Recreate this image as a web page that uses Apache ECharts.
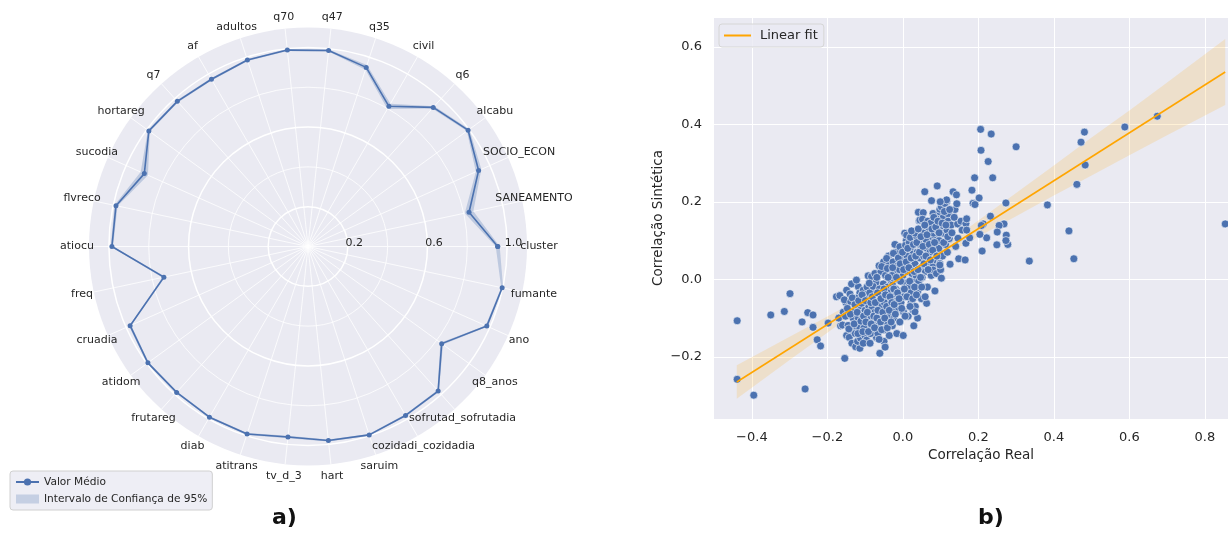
<!DOCTYPE html>
<html><head><meta charset="utf-8">
<script src="https://cdn.jsdelivr.net/npm/echarts@6/dist/echarts.min.js"></script>
<style>html,body{margin:0;padding:0;background:#fff}#c{width:1228px;height:533px}</style>
</head><body><div id="c"></div>
<script>
// ---------- Radar (a) data ----------
const radarCategories = ['cluster','SANEAMENTO','SOCIO_ECON','alcabu','q6','civil','q35','q47','q70','adultos','af','q7','hortareg','sucodia','flvreco','atiocu','freq','cruadia','atidom','frutareg','diab','atitrans','tv_d_3','hart','saruim','cozidadi_cozidadia','sofrutad_sofrutadia','q8_anos','ano','fumante'];
const radarMean = [0.953,0.827,0.938,0.994,0.940,0.813,0.946,0.990,0.992,0.985,0.970,0.981,0.988,0.900,0.986,0.985,0.740,0.978,0.994,0.986,0.990,0.990,0.962,0.980,0.995,0.980,0.977,0.830,0.983,0.997];
const radarLow  = [0.943,0.805,0.923,0.986,0.932,0.798,0.934,0.985,0.987,0.980,0.964,0.975,0.982,0.880,0.978,0.979,0.732,0.972,0.989,0.981,0.985,0.985,0.956,0.975,0.990,0.975,0.971,0.822,0.977,0.992];
const radarHigh = [0.963,0.849,0.953,1.002,0.948,0.828,0.958,0.995,0.997,0.990,0.976,0.987,0.994,0.920,0.994,0.991,0.748,0.984,0.999,0.991,0.995,0.995,0.968,0.985,1.000,0.985,0.983,0.838,0.989,1.002];
const radarRings = [0.2,0.4,0.6,0.8,1.0];
const radarMajorRings = [0.2,0.6,1.0];
const radarTickLabels = ['0.2','0.6','1.0'];
const radarMax = 1.1;

// ---------- Scatter (b) data ----------
const scatterPoints = [
[-0.439,-0.107],[-0.439,-0.258],[-0.395,-0.299],[-0.259,-0.283],[-0.299,-0.037],[-0.350,-0.092],[-0.314,-0.083],[-0.267,-0.110],[-0.252,-0.086],[-0.238,-0.092],[-0.238,-0.124],[-0.198,-0.113],[-0.227,-0.156],[-0.218,-0.172],[-0.154,-0.204],[-0.176,-0.045],
[-0.167,-0.042],[-0.158,-0.085],[-0.165,-0.120],[-0.149,-0.145],[-0.149,-0.028],[-0.151,-0.060],[-0.160,-0.118],[-0.155,-0.053],[-0.145,-0.119],[-0.170,-0.100],
[-0.140,-0.038],[-0.131,-0.135],[-0.138,-0.058],[-0.132,-0.100],[-0.142,-0.150],[-0.135,-0.165],[-0.128,-0.082],[-0.136,-0.012],
[-0.118,-0.019],[-0.114,-0.035],[-0.123,-0.049],[-0.123,-0.122],[-0.114,-0.126],[-0.118,-0.101],[-0.125,-0.174],[-0.114,-0.178],[-0.120,-0.160],[-0.112,-0.152],[-0.123,-0.002],[-0.116,-0.070],[-0.126,-0.140],
[-0.105,-0.028],[-0.109,-0.062],[-0.101,-0.144],[-0.096,-0.157],[-0.092,-0.118],[-0.096,-0.101],[-0.110,-0.088],[-0.092,-0.045],[-0.092,0.009],[-0.105,-0.165],[-0.100,-0.080],[-0.095,-0.020],[-0.103,-0.125],[-0.090,-0.070],
[-0.087,-0.165],[-0.083,0.007],[-0.074,0.015],[-0.085,-0.095],[-0.080,-0.130],[-0.078,-0.055],[-0.072,-0.030],[-0.088,-0.035],[-0.076,-0.110],[-0.082,-0.075],[-0.070,-0.150],[-0.074,-0.085],[-0.086,-0.140],[-0.071,-0.008],[-0.079,-0.018],
[-0.061,-0.191],[-0.065,-0.120],[-0.060,-0.090],[-0.068,-0.060],[-0.055,-0.040],[-0.058,0.020],[-0.063,0.035],[-0.052,-0.012],[-0.066,-0.140],[-0.054,-0.105],[-0.057,-0.070],[-0.050,-0.160],[-0.062,-0.025],[-0.069,0.005],[-0.051,0.045],[-0.056,0.033],[-0.064,-0.100],
[-0.048,-0.130],[-0.045,-0.085],[-0.042,-0.050],[-0.040,-0.020],[-0.046,0.010],[-0.035,0.040],[-0.038,0.060],[-0.044,-0.110],[-0.032,-0.065],[-0.036,-0.145],[-0.041,0.028],[-0.030,-0.005],[-0.047,-0.175],[-0.033,-0.095],[-0.043,0.054],[-0.049,-0.060],[-0.037,-0.035],
[-0.028,-0.120],[-0.025,-0.080],[-0.022,-0.040],[-0.027,-0.015],[-0.020,0.020],[-0.026,0.045],[-0.018,0.070],[-0.024,-0.100],[-0.015,-0.055],[-0.012,0.000],[-0.025,0.067],[-0.016,-0.140],[-0.021,0.090],[-0.013,0.035],[-0.019,-0.025],[-0.011,-0.075],[-0.029,0.010],
[-0.008,-0.110],[-0.005,-0.060],[-0.002,-0.030],[0.000,0.010],[0.004,0.040],[0.008,0.065],[-0.008,0.084],[0.002,-0.085],[0.006,-0.010],[-0.009,0.025],[0.009,0.100],[0.005,0.119],[0.001,-0.145],[0.007,0.088],[-0.004,0.055],[0.003,-0.045],[-0.006,-0.005],
[0.010,0.114],[0.012,0.020],[0.015,-0.020],[0.018,0.050],[0.020,0.080],[0.022,-0.060],[0.025,0.000],[0.028,0.035],[0.014,-0.095],[0.017,0.095],[0.026,0.065],[0.021,-0.035],[0.029,-0.120],[0.020,0.108],[0.024,0.015],[0.011,0.060],[0.027,-0.080],
[0.032,0.040],[0.035,0.010],[0.038,0.070],[0.040,-0.030],[0.043,0.151],[0.045,0.090],[0.048,0.030],[0.033,-0.070],[0.036,0.112],[0.042,-0.005],[0.046,0.055],[0.049,-0.050],[0.033,0.119],[0.039,-0.100],[0.032,-0.084],[0.041,0.173],[0.045,0.153],
[0.054,0.172],[0.052,0.155],[0.058,0.226],[0.055,0.060],[0.060,0.020],[0.062,0.100],[0.065,-0.020],[0.068,0.045],[0.057,0.130],[0.063,0.080],[0.063,-0.062],[0.051,0.005],[0.069,0.127],[0.059,-0.045],[0.055,0.119],[0.066,0.150],
[0.076,0.203],[0.080,0.170],[0.089,0.157],[0.080,0.037],[0.072,0.070],[0.075,0.010],[0.078,0.110],[0.083,0.131],[0.085,-0.030],[0.088,0.090],[0.083,0.114],[0.074,0.145],[0.086,0.050],[0.080,0.024],[0.081,0.119],[0.089,0.015],
[0.091,0.241],[0.098,0.174],[0.098,0.181],[0.098,0.041],[0.102,0.187],[0.102,0.131],[0.107,0.160],[0.107,0.119],[0.095,0.080],[0.100,0.025],[0.105,0.060],[0.092,0.125],[0.102,0.003],[0.096,0.100],[0.098,0.037],
[0.111,0.201],[0.116,0.200],[0.111,0.196],[0.116,0.205],[0.117,0.127],[0.120,0.169],[0.120,0.150],[0.125,0.039],[0.113,0.090],[0.118,0.070],[0.123,0.105],[0.128,0.140],
[0.133,0.226],[0.142,0.218],[0.145,0.143],[0.146,0.106],[0.148,0.053],[0.154,0.150],[0.138,0.180],[0.140,0.085],
[0.157,0.127],[0.165,0.050],[0.167,0.093],[0.167,0.144],[0.169,0.156],[0.169,0.127],[0.177,0.107],
[-0.152,-0.095],[-0.147,-0.075],[-0.143,-0.128],[-0.139,-0.090],[-0.134,-0.048],[-0.129,-0.115],[-0.127,-0.065],[-0.121,-0.085],[-0.119,-0.140],[-0.117,-0.055],[-0.111,-0.108],[-0.108,-0.040],[-0.106,-0.135],[-0.104,-0.095],[-0.099,-0.055],[-0.098,-0.110],[-0.094,-0.085],[-0.091,-0.135],[-0.089,-0.010],[-0.085,-0.060],[-0.084,-0.115],[-0.081,-0.045],[-0.077,-0.095],[-0.075,-0.125],[-0.073,-0.060],[-0.069,-0.100],[-0.067,-0.035],[-0.066,-0.080],[-0.063,-0.155],[-0.059,-0.110],[-0.058,-0.050],[-0.056,-0.130],[-0.053,-0.085],[-0.050,-0.025],[-0.048,-0.100],[-0.046,-0.040],[-0.043,-0.070],[-0.041,-0.125],[-0.039,0.005],[-0.036,-0.080],[-0.034,-0.045],[-0.031,-0.110],[-0.029,-0.060],[-0.027,0.030],[-0.024,-0.025],[-0.023,-0.065],[-0.020,-0.090],[-0.017,0.005],[-0.014,-0.035],[-0.012,0.055],[-0.010,-0.050],[-0.007,0.040],[-0.003,-0.075],[-0.001,0.070],[0.002,0.025],[0.004,-0.025],[0.006,-0.095],[0.009,0.045],[0.011,-0.045],[0.013,0.080],[0.016,0.030],[0.018,-0.005],[0.019,-0.070],[0.022,0.055],[0.023,0.125],[0.026,-0.050],[0.028,0.090],[0.030,0.020],[0.031,-0.020],[0.034,0.060],[0.036,-0.040],[0.037,0.095],[0.040,0.025],[0.041,0.130],[0.044,0.070],[0.047,0.005],[0.048,0.110],[0.050,-0.020],[0.053,0.085],[0.056,0.040],[0.058,0.140],[0.061,0.060],[0.064,0.115],[0.067,0.025],[0.070,0.090],[0.073,0.050],[0.077,0.130],[0.079,0.075],[0.082,0.160],[0.084,0.095],[0.087,0.135],[0.090,0.060],[0.093,0.150],[0.096,0.120],[0.099,0.200],[0.104,0.145],[0.108,0.095],[0.110,0.175],[0.114,0.140],[0.119,0.110],[0.124,0.180],[0.130,0.120],[0.136,0.160],[0.143,0.195],
[0.206,0.387],[0.234,0.375],[0.300,0.342],[0.207,0.333],[0.226,0.304],[0.190,0.262],[0.238,0.262],[0.183,0.230],[0.202,0.210],[0.186,0.196],[0.191,0.193],[0.273,0.197],[0.383,0.192],[0.461,0.245],[0.483,0.295],[0.472,0.354],[0.481,0.380],[0.588,0.393],[0.674,0.421],[0.854,0.143],[0.440,0.125],[0.453,0.053],[0.335,0.047],[0.232,0.163],[0.268,0.143],[0.255,0.139],[0.250,0.122],[0.274,0.114],[0.278,0.090],[0.273,0.100],[0.249,0.089],[0.210,0.073],[0.222,0.107],[0.204,0.116],[0.213,0.143],[0.208,0.139]
];
const fitX = [-0.44, 0.854];
const fitY = [-0.265, 0.535];
const bandX    = [-0.44,-0.3,-0.2,-0.1,0.0,0.1,0.2,0.3,0.4,0.5,0.6,0.7,0.854];
const bandLow  = [-0.308,-0.208,-0.138,-0.067,-0.001,0.057,0.110,0.163,0.216,0.268,0.320,0.372,0.450];
const bandHigh = [-0.222,-0.148,-0.096,-0.043,0.015,0.081,0.152,0.223,0.294,0.366,0.436,0.508,0.620];

const FONT = '"DejaVu Sans", sans-serif';
const TXT = '#262626';

function fmtTick(v) {
  const k = v / 0.2;
  if (Math.abs(k - Math.round(k)) > 1e-6) return '';
  return (Math.round(k) * 0.2).toFixed(1).replace('-', '\u2212').replace('\u22120.0', '0.0');
}

function renderPolarGrid(params, api) {
  const cs = params.coordSys;
  const cx = cs.cx, cy = cs.cy;
  const ch = [];
  const o = api.coord([radarMax, 0]);
  const R = Math.hypot(o[0] - cx, o[1] - cy);
  ch.push({type: 'circle', shape: {cx: cx, cy: cy, r: R}, style: {fill: '#EAEAF2', stroke: 'none'}});
  radarRings.forEach(function (v) {
    const p = api.coord([v, 0]);
    const r = Math.hypot(p[0] - cx, p[1] - cy);
    const major = radarMajorRings.indexOf(v) >= 0;
    ch.push({type: 'circle', shape: {cx: cx, cy: cy, r: r}, style: {fill: 'none', stroke: '#ffffff', lineWidth: major ? 1.5 : 0.8}});
  });
  radarCategories.forEach(function (c, i) {
    const p = api.coord([radarMax, i]);
    ch.push({type: 'line', shape: {x1: cx, y1: cy, x2: p[0], y2: p[1]}, style: {stroke: '#ffffff', lineWidth: 0.8}});
  });
  return {type: 'group', children: ch};
}

function renderPolarLabels(params, api) {
  const cs = params.coordSys;
  const cx = cs.cx, cy = cs.cy;
  const ch = [];
  radarCategories.forEach(function (c, i) {
    const p = api.coord([radarMax, i]);
    const dx = p[0] - cx, dy = p[1] - cy;
    const R = Math.hypot(dx, dy);
    const k = (R + 12) / R;
    ch.push({type: 'text', x: cx + dx * k, y: cy + dy * k,
      style: {text: c, fill: TXT, font: '11px ' + FONT, align: 'center', verticalAlign: 'middle'}});
  });
  radarMajorRings.forEach(function (v, j) {
    const p = api.coord([v, 0]);
    ch.push({type: 'text', x: p[0] + 6.5, y: p[1] - 3,
      style: {text: radarTickLabels[j], fill: TXT, font: '11px ' + FONT, align: 'center', verticalAlign: 'middle'}});
  });
  return {type: 'group', children: ch};
}

function renderRadarBand(params, api) {
  const pts = [];
  const n = radarCategories.length;
  for (let i = 0; i <= n; i++) { const k = i % n; pts.push(api.coord([radarHigh[k], k])); }
  for (let i = n; i >= 0; i--) { const k = i % n; pts.push(api.coord([radarLow[k], k])); }
  return {type: 'polygon', shape: {points: pts}, style: {fill: 'rgba(76,114,176,0.28)', stroke: 'none'}};
}

function renderFitBand(params, api) {
  if (params.dataIndex !== 0) return null;
  const pts = [];
  for (let i = 0; i < bandX.length; i++) pts.push(api.coord([bandX[i], bandHigh[i]]));
  for (let i = bandX.length - 1; i >= 0; i--) pts.push(api.coord([bandX[i], bandLow[i]]));
  return {type: 'polygon', shape: {points: pts}, style: {fill: 'rgba(255,165,0,0.16)', stroke: 'none'}};
}

const radarLineData = radarMean.map(function (v, i) { return [v, i]; });
radarLineData.push([radarMean[0], 0]);

const chart = echarts.init(document.getElementById('c'), null, {renderer: 'canvas'});
chart.setOption({
  animation: false,
  backgroundColor: '#ffffff',
  textStyle: {fontFamily: FONT},
  polar: {center: [308, 246.5], radius: 219},
  angleAxis: {type: 'category', data: radarCategories, startAngle: 0, clockwise: false, boundaryGap: false,
    axisLine: {show: false}, axisTick: {show: false}, axisLabel: {show: false}, splitLine: {show: false}, splitArea: {show: false}},
  radiusAxis: {type: 'value', min: 0, max: radarMax, axisLine: {show: false}, axisTick: {show: false}, axisLabel: {show: false}, splitLine: {show: false}},
  grid: {left: 713, top: 17, width: 536, height: 402, show: true, backgroundColor: '#EAEAF2', borderWidth: 0,
    containLabel: false, outerBoundsMode: 'none'},
  xAxis: {type: 'value', min: -0.503, max: 0.917, splitNumber: 7,
    axisLine: {show: false}, axisTick: {show: false},
    axisLabel: {formatter: fmtTick, color: TXT, fontSize: 13, fontFamily: FONT, margin: 12},
    splitLine: {show: true, lineStyle: {color: '#ffffff', width: 1}},
    name: 'Correlação Real', nameLocation: 'middle', nameGap: 29,
    nameTextStyle: {color: TXT, fontSize: 13.5, fontFamily: FONT}},
  yAxis: {type: 'value', min: -0.3605, max: 0.677, splitNumber: 5,
    axisLine: {show: false}, axisTick: {show: false},
    axisLabel: {formatter: fmtTick, color: TXT, fontSize: 13, fontFamily: FONT, margin: 11},
    splitLine: {show: true, lineStyle: {color: '#ffffff', width: 1}},
    name: 'Correlação Sintética', nameLocation: 'middle', nameGap: 48,
    nameTextStyle: {color: TXT, fontSize: 13.5, fontFamily: FONT}},
  legend: [
    {left: 10, top: 471, orient: 'vertical', itemGap: 3, itemWidth: 23, itemHeight: 9,
     padding: [4, 5, 4, 5], backgroundColor: 'rgba(234,234,242,0.8)', borderColor: '#d0d0d0', borderWidth: 1, borderRadius: 3,
     textStyle: {color: TXT, fontSize: 10.6, fontFamily: FONT, lineHeight: 14},
     data: [{name: 'Valor Médio'}, {name: 'Intervalo de Confiança de 95%', icon: 'rect', itemStyle: {color: 'rgba(76,114,176,0.25)'}}]},
    {left: 719, top: 24, orient: 'horizontal', itemWidth: 27, itemHeight: 2,
     padding: [5, 6, 5, 5], backgroundColor: 'rgba(234,234,242,0.8)', borderColor: '#d6d6d6', borderWidth: 1, borderRadius: 3,
     textStyle: {color: TXT, fontSize: 13, fontFamily: FONT, padding: [0, 0, 0, 4], lineHeight: 13},
     data: [{name: 'Linear fit', icon: 'rect', itemStyle: {color: '#FFA500'}}]}
  ],
  graphic: [
    {type: 'text', left: 272, top: 507, style: {text: 'a)', font: 'bold 22px ' + FONT, fill: '#111'}},
    {type: 'text', left: 978, top: 507, style: {text: 'b)', font: 'bold 22px ' + FONT, fill: '#111'}}
  ],
  series: [
    {type: 'custom', name: 'grid', coordinateSystem: 'polar', data: [[0, 0]], renderItem: renderPolarGrid, z: 1, silent: true},
    {type: 'custom', name: 'Intervalo de Confiança de 95%', coordinateSystem: 'polar', data: [[0, 0]], renderItem: renderRadarBand, z: 2, silent: true,
     itemStyle: {color: 'rgba(76,114,176,0.25)'}},
    {type: 'line', name: 'Valor Médio', coordinateSystem: 'polar', data: radarLineData, z: 3,
     symbol: 'circle', symbolSize: 5, showSymbol: true,
     lineStyle: {color: '#4C72B0', width: 1.6}, itemStyle: {color: '#4C72B0'}},
    {type: 'custom', name: 'labels', coordinateSystem: 'polar', data: [[0, 0]], renderItem: renderPolarLabels, z: 4, silent: true},
    {type: 'custom', name: 'IC fit', xAxisIndex: 0, yAxisIndex: 0, data: [[bandX[0], bandLow[0]]], renderItem: renderFitBand, z: 2, silent: true},
    {type: 'scatter', name: 'pontos', data: scatterPoints, symbol: 'circle', symbolSize: 8, z: 3,
     itemStyle: {color: '#4C72B0', borderColor: '#ffffff', borderWidth: 0.6, opacity: 1}},
    {type: 'line', name: 'Linear fit', data: fitX.map(function (x, i) { return [x, fitY[i]]; }), z: 4,
     symbol: 'none', lineStyle: {color: '#FFA500', width: 1.6}, itemStyle: {color: '#FFA500'}}
  ]
});
</script></body></html>
